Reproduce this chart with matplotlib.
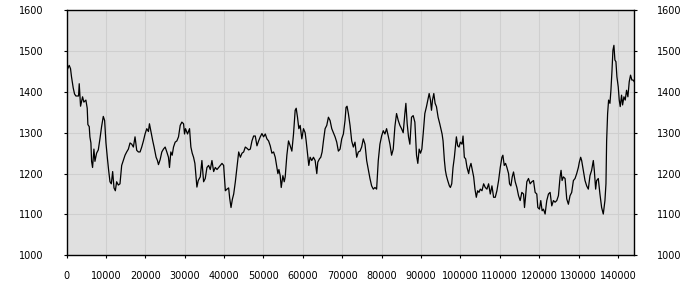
import matplotlib
matplotlib.use("Agg")
import matplotlib.pyplot as plt
import numpy as np

# values (x = step, y = level)
steps = [
    0, 680, 1020, 1270, 1700, 2040, 2380, 3060, 3230, 3570, 4080, 4410, 4920, 5260, 5430,
    5770, 5940, 6200, 6370, 6620, 6960, 7220, 7640, 8070, 8490, 8910, 9340, 9680, 10020,
    10360, 10700, 11040, 11380, 11720, 12060, 12400, 12730, 13160, 13580, 14010, 14430,
    14860, 15280, 15710, 16130, 16560, 16980, 17400, 17830, 18250, 18680, 19100, 19530,
    19950, 20380, 20800, 21060, 21400, 21900, 22240, 22750, 23090, 23350, 23770, 24200,
    24620, 25050, 25470, 25890, 26150, 26490, 26830, 27170, 27590, 28020, 28440, 28870,
    29290, 29720, 29970, 30220, 30730, 31240, 31580, 31920, 32260, 32600, 33110, 33450,
    33960, 34380, 34810, 35230, 35660, 36080, 36510, 36930, 37360, 37780, 38210, 38630,
    39050, 39480, 39900, 40330, 40750, 41170, 41430, 41770, 42110, 42450, 42870, 43290,
    43720, 44140,
    44560, 44980, 45400, 45820, 46250, 46670, 47090, 47510, 47930, 48360, 48780, 49200,
    49620, 50040, 50470, 50890, 51310, 51730, 52150, 52580, 53000, 53420, 53670, 53930,
    54260, 54520, 54940, 55280, 55530, 55950, 56370, 56800, 57220, 57640, 58060, 58320,
    58650, 58990, 59330, 59750, 60170, 60590, 60850, 61180, 61520, 61860, 62280, 62700,
    63130, 63550, 63800, 64220, 64560, 64900, 65240, 65660, 66080, 66500, 66920, 67350,
    67770, 68190, 68610, 69030, 69460, 69880, 70300, 70720, 70970, 71230, 71570, 71990,
    72410, 72830, 73250, 73680, 74100, 74520, 74940, 75360, 75790, 76210, 76630, 77050,
    77470, 77900, 78320, 78740, 79160, 79580, 80010, 80430, 80850, 81270, 81690, 82120,
    82540, 82960, 83380, 83800, 84230, 84650, 85070, 85490, 85910, 86170, 86500, 86840,
    87180, 87600, 88020, 88450, 88870, 89200, 89540, 89880, 90220, 90560, 90980, 91400,
    91820, 92080, 92410, 92670, 92930, 93260, 93590, 93930, 94350, 94770,
    95360, 95610, 95950, 96200, 96450, 96790, 97210, 97470, 97810, 98140, 98480, 98730,
    98990, 99320, 99660, 100000, 100420, 100680, 101010, 101350, 101690, 102110, 102360,
    102700, 103040, 103380, 103710, 104050, 104390, 104730, 105060, 105490, 105910,
    106330, 106750, 107170, 107600, 108020, 108440, 108860, 109280, 109710, 110130,
    110550, 110800, 111140, 111480, 111820, 112240, 112490, 112830, 113170, 113500,
    113930, 114350, 114770, 115190, 115610, 116040, 116290, 116540, 116880, 117300,
    117720, 118150, 118570, 118990, 119410, 119670, 120090, 120420, 120760, 121100,
    121520, 121940, 122370, 122790, 123210, 123630, 124050, 124480, 124900, 125320,
    125570, 125830, 126160, 126590, 127010, 127430, 127850, 128270, 128700, 129120,
    129540, 129960, 130210, 130550, 130800, 131220, 131650, 132070, 132490, 132910,
    133330, 133760, 134010, 134350, 134600, 135020, 135440, 135870, 136290, 136710,
    136970, 137140, 137390, 137640, 137980, 138230, 138490, 138740, 138990, 139240,
    139500, 139750, 140090, 140340, 140590, 140930, 141190, 141530, 141860, 142200,
    142540, 142880, 143210, 143550, 143890, 144140,
]
level = [
    1450, 1465, 1457, 1437, 1410, 1395, 1390, 1390, 1420, 1365, 1388, 1375, 1380, 1360, 1320,
    1315, 1290, 1275, 1230, 1215, 1260, 1230, 1250, 1258, 1285, 1315, 1340, 1330, 1275,
    1240, 1208, 1180, 1175, 1205, 1165, 1158, 1180, 1172, 1175, 1220, 1232,
    1245, 1253, 1260, 1275, 1272, 1265, 1290, 1257, 1253, 1253, 1265, 1280,
    1297, 1310, 1303, 1322, 1305, 1280, 1265, 1240, 1232, 1222, 1234, 1253,
    1260, 1265, 1253, 1240, 1215, 1253, 1245, 1265, 1277, 1280, 1290, 1318,
    1326, 1322, 1297, 1310, 1297, 1310, 1265, 1250, 1240, 1225, 1167, 1183,
    1192, 1232, 1180, 1188, 1215, 1220, 1210, 1232, 1205, 1215, 1210, 1215,
    1220, 1225, 1220, 1158, 1162, 1165, 1140, 1117, 1137, 1150, 1180, 1215,
    1253, 1240,
    1250, 1253, 1265, 1262, 1258, 1260, 1280, 1292, 1292, 1268, 1280, 1290,
    1298, 1290, 1297, 1285, 1280, 1268, 1250, 1253, 1240, 1215, 1200, 1210,
    1195, 1166, 1195, 1180, 1192, 1245, 1280, 1268, 1255, 1297, 1355, 1360,
    1338, 1310, 1318, 1285, 1310, 1300, 1280, 1250, 1220, 1240, 1232, 1240,
    1232, 1200, 1228, 1236, 1240, 1253, 1280, 1310, 1318, 1338, 1330, 1310,
    1300, 1290, 1277, 1255, 1260, 1285, 1297, 1330, 1362, 1365, 1347, 1318,
    1280, 1265, 1277, 1240, 1253, 1255, 1265, 1285, 1272, 1232, 1210, 1188,
    1170, 1162, 1166, 1162, 1232, 1272, 1292, 1305, 1297, 1310, 1292, 1272,
    1245, 1260, 1315, 1347, 1330, 1318, 1310, 1300, 1347, 1372, 1322, 1290,
    1272, 1338, 1342, 1326, 1245, 1225, 1260, 1250, 1260, 1297, 1347, 1364,
    1384, 1396, 1380, 1355, 1380, 1396, 1372, 1364, 1338, 1322,
    1297, 1280, 1232, 1208, 1195, 1183, 1170, 1166, 1175, 1215, 1240, 1265,
    1290, 1268, 1265, 1277, 1272, 1292, 1240, 1236, 1215, 1200, 1215,
    1225, 1208, 1192, 1162, 1142, 1158, 1154, 1162, 1158, 1175,
    1166, 1162, 1175, 1150, 1170, 1142, 1142, 1158, 1183, 1215,
    1240, 1245, 1220, 1225, 1215, 1200, 1175, 1170, 1192, 1204,
    1180, 1166, 1146, 1134, 1154, 1150, 1117, 1142, 1180, 1188,
    1175, 1180, 1183, 1154, 1150, 1117, 1113, 1134, 1109, 1113,
    1101, 1134, 1150, 1154, 1121, 1134, 1130, 1134, 1146, 1192,
    1208, 1183, 1192, 1188, 1138, 1125, 1146, 1154, 1183, 1188,
    1200, 1215, 1228, 1240, 1232, 1208, 1183, 1170, 1162, 1195,
    1208, 1232, 1208, 1162, 1183, 1188, 1150, 1117, 1101, 1134,
    1175, 1280, 1347, 1380, 1372, 1404, 1450, 1502, 1514, 1478,
    1474, 1437, 1412, 1380, 1364, 1392, 1368, 1388, 1380, 1404,
    1388, 1425, 1441, 1429, 1429, 1425,
]

x_ticks = list(range(0, 140001, 10000))
y_ticks = list(range(1000, 1601, 100))

plt.rcParams['font.family'] = ['DejaVu Sans']
plt.rcParams['font.size'] = 7

fig = plt.figure(figsize=(7, 3), dpi=100)
ax = fig.add_axes([0.095, 0.149, 0.811, 0.817])
ax.set_facecolor('#e0e0e0')

ax.plot(steps, level, color='black', linewidth=0.9)

ax.set_xlim(0, 144140)
ax.set_ylim(1000, 1600)
ax.set_xticks(x_ticks)
ax.set_yticks(y_ticks)
ax.grid(True, color='#cfcfcf', linewidth=0.8)
ax.set_axisbelow(True)

for sp in ax.spines.values():
    sp.set_color('black')
    sp.set_linewidth(1.0)

ax.tick_params(axis='x', direction='out', length=2.5, width=0.8, pad=9)
ax.tick_params(axis='y', direction='out', length=2.5, width=0.8, pad=14,
               right=True, labelright=True, labelleft=True)

fig.savefig('out.png', dpi=100)
